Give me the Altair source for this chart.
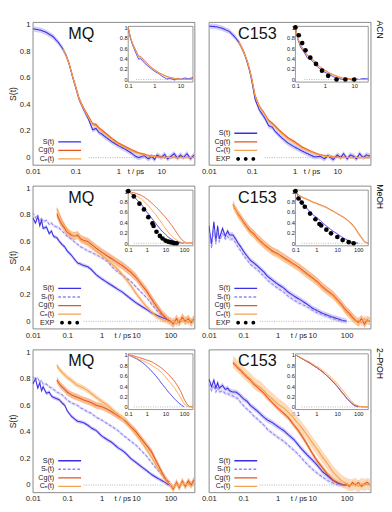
import altair as alt
import pandas as pd
import math

FONT = "Liberation Sans"
W, H = 170, 150
YMIN, YMAX = -0.055, 1.02
IYMIN, IYMAX = -0.05, 1.02

S, SR, CG, CE = "S(t)", "Sᵣ(t)", "Cg(t)", "Cₑ(t)"
COLORS = {S: "#3a2ee6", SR: "#8f86f2", CG: "#e8541c", CE: "#f6a24a"}
BAND = {S: "#c6c0f5", SR: "#dedaf9", CG: "#f5a46e", CE: "#fbcfa6"}
DASH = {S: [1, 0], SR: [3, 2], CG: [1, 0], CE: [1, 0]}
ROW_NAMES = ["ACN", "MeOH", "2–PrOH"]
N = None

# ---------------- ACN (top row) ----------------
G1 = [0.01, 0.015, 0.02, 0.03, 0.04, 0.05, 0.06, 0.07, 0.08, 0.09, 0.1, 0.12, 0.15, 0.2, 0.25,
      0.3, 0.35, 0.4, 0.5, 0.7, 1, 1.5, 2, 2.5, 3, 4, 5, 6, 7, 8, 10, 12, 14, 17, 20, 24, 28,
      33, 40, 48, 58]
ACN_MQ_S = [0.97, 0.96, 0.945, 0.91, 0.865, 0.82, 0.77, 0.71, 0.64, 0.58,
            0.53, 0.44, 0.37, 0.29, 0.21, 0.22, 0.19, 0.18, 0.155, 0.12,
            0.09, 0.06, 0.035, 0.01, 0.0, 0.015, -0.01, 0.01, -0.015, 0.02,
            0.0, 0.025, -0.01, 0.01, 0.03, -0.005, 0.02, 0.0, 0.03, -0.01, 0.02]
ACN_MQ_CG = [N] * 5 + [0.82, 0.77, 0.71, 0.645, 0.585, 0.54, 0.45, 0.38, 0.31, 0.255,
                       0.25, 0.225, 0.21, 0.185, 0.145, 0.11, 0.08, 0.06, 0.045, 0.035,
                       0.025, 0.015, 0.01, 0.012, 0.005, 0.006, 0.0, 0.004, 0.0, 0.003,
                       0.0, 0.004, 0.0, 0.002, 0.0, 0.003]
ACN_MQ_CE = [N] * 5 + [0.82, 0.77, 0.71, 0.645, 0.585, 0.535, 0.445, 0.375, 0.3, 0.245,
                       0.24, 0.215, 0.2, 0.175, 0.135, 0.1, 0.072, 0.052, 0.038, 0.03,
                       0.02, 0.012, 0.008, 0.008, 0.003, 0.004, -0.002, 0.002, 0.0, 0.001,
                       -0.002, 0.002, 0.0, 0.001, -0.001, 0.002]
ACN_C153_S = [0.99, 0.985, 0.975, 0.95, 0.91, 0.87, 0.82, 0.77, 0.71, 0.65,
              0.58, 0.44, 0.36, 0.3, 0.24, 0.23, 0.2, 0.18, 0.15, 0.11,
              0.08, 0.05, 0.03, 0.015, 0.005, 0.01, -0.01, 0.015, 0.0, -0.015,
              0.02, 0.0, 0.03, -0.01, 0.02, 0.01, -0.01, 0.03, 0.0, 0.02, 0.01]
ACN_C153_CG = [N] * 5 + [0.87, 0.82, 0.77, 0.72, 0.66, 0.6, 0.47, 0.39, 0.33, 0.28,
                         0.26, 0.24, 0.22, 0.19, 0.15, 0.12, 0.08, 0.06, 0.045, 0.035,
                         0.02, 0.015, 0.01, 0.01, 0.005, 0.005, 0.0, 0.003, 0.0, 0.002,
                         0.0, 0.003, 0.0, 0.002, 0.0, 0.001]
ACN_C153_CE = [N] * 5 + [0.87, 0.82, 0.77, 0.72, 0.66, 0.595, 0.465, 0.385, 0.325, 0.27,
                         0.25, 0.23, 0.21, 0.18, 0.14, 0.11, 0.072, 0.053, 0.04, 0.03,
                         0.017, 0.012, 0.008, 0.007, 0.003, 0.003, -0.001, 0.002, 0.0, 0.001,
                         -0.001, 0.002, 0.0, 0.001, -0.001, 0.0]
I1 = [0.1, 0.12, 0.15, 0.2, 0.25, 0.3, 0.4, 0.5, 0.7, 1, 1.5, 2, 3, 4, 6, 8, 10, 15, 20, 30]
ACN_MQ_IN_S = [1.0, 0.8, 0.65, 0.5, 0.39, 0.4, 0.33, 0.28, 0.22, 0.16, 0.11, 0.06, 0.01, 0.02,
               -0.01, 0.02, 0.0, 0.03, 0.01, 0.04]
ACN_MQ_IN_CG = [1.0, 0.82, 0.68, 0.55, 0.45, 0.44, 0.38, 0.33, 0.25, 0.19, 0.13, 0.1, 0.06,
                0.04, 0.02, 0.01, 0.01, 0.0, 0.0, 0.01]
ACN_MQ_IN_CE = [1.0, 0.81, 0.67, 0.53, 0.44, 0.42, 0.36, 0.31, 0.24, 0.18, 0.12, 0.09, 0.05,
                0.03, 0.02, 0.01, 0.0, 0.0, 0.0, 0.0]
ACN_C153_IN_S = [1.0, 0.78, 0.62, 0.52, 0.42, 0.4, 0.34, 0.27, 0.2, 0.14, 0.09, 0.05, 0.02,
                 0.0, 0.02, -0.01, 0.01, 0.0, 0.02, 0.01]
ACN_C153_IN_CG = [1.0, 0.8, 0.66, 0.56, 0.47, 0.44, 0.38, 0.32, 0.24, 0.18, 0.12, 0.09, 0.05,
                  0.03, 0.02, 0.01, 0.01, 0.0, 0.0, 0.0]
ACN_C153_IN_CE = [1.0, 0.79, 0.65, 0.55, 0.46, 0.43, 0.37, 0.31, 0.23, 0.17, 0.11, 0.08, 0.04,
                  0.02, 0.01, 0.01, 0.0, 0.0, 0.0, 0.0]
ACN_C153_EXP_T = [0.1, 0.13, 0.17, 0.22, 0.32, 0.5, 0.8, 1.3, 2.5, 5, 10]
ACN_C153_EXP_V = [1.0, 0.85, 0.7, 0.56, 0.42, 0.3, 0.17, 0.07, 0.0, 0.0, 0.0]

# ---------------- MeOH / 2-PrOH grid ----------------
G2 = [0.01, 0.012, 0.014, 0.016, 0.018, 0.02, 0.025, 0.03, 0.035, 0.04,
      0.05, 0.06, 0.07, 0.085, 0.1, 0.13, 0.16, 0.2, 0.25, 0.3,
      0.4, 0.5, 0.7, 1, 1.5, 2, 3, 4, 5, 7,
      10, 14, 20, 28, 40, 55, 70, 85, 100, 120,
      150, 180, 220, 270, 330, 400, 480]
I2 = [0.1, 0.15, 0.2, 0.3, 0.5, 0.7, 1, 1.5, 2, 3, 5, 7, 10, 15, 20, 30, 50, 70, 100, 150, 200, 300]

MEOH_MQ_S = [0.78, 0.74, 0.79, 0.72, 0.76, 0.7, 0.71, 0.66, 0.68, 0.64,
             0.63, 0.6, 0.58, 0.56, 0.53, 0.5, 0.47, 0.44, 0.43, 0.42,
             0.41, 0.39, 0.35, 0.32, 0.29, 0.27, 0.24, 0.22, 0.2, 0.17,
             0.14, 0.115, 0.09, 0.065, 0.045, 0.03, 0.02, 0.01, 0.0] + [N] * 8
MEOH_MQ_SR = [0.82, 0.78, 0.8, 0.76, 0.78, 0.75, 0.76, 0.73, 0.74, 0.72,
              0.71, 0.7, 0.68, 0.66, 0.64, 0.62, 0.6, 0.58, 0.56, 0.55,
              0.53, 0.52, 0.5, 0.48, 0.45, 0.41, 0.37, 0.35, 0.33, 0.3,
              0.26, 0.22, 0.18, 0.13, 0.08, 0.05, 0.025, 0.01, 0.0] + [N] * 8
MEOH_MQ_CG = [N] * 10 + [0.81, 0.76, 0.73, 0.7, 0.67, 0.65, 0.64, 0.65, 0.62, 0.61,
                         0.6, 0.58, 0.55, 0.52, 0.49, 0.47, 0.44, 0.42, 0.4, 0.37,
                         0.33, 0.28, 0.23, 0.17, 0.11, 0.06, 0.03, 0.01, 0.0, -0.02,
                         0.02, -0.01, 0.03, 0.0, 0.02, -0.01, 0.02]
MEOH_MQ_CE = [N] * 10 + [0.85, 0.8, 0.76, 0.72, 0.69, 0.66, 0.64, 0.64, 0.61, 0.6,
                         0.58, 0.56, 0.53, 0.5, 0.46, 0.43, 0.39, 0.35, 0.32, 0.27,
                         0.21, 0.16, 0.11, 0.07, 0.035, 0.015, 0.005, 0.0, -0.01, 0.01,
                         -0.02, 0.01, 0.0, 0.02, -0.01, 0.01, 0.0]
MEOH_MQ_IN_S = [1.0, 0.95, 0.9, 0.83, 0.75, 0.68, 0.6, 0.52, 0.46, 0.38, 0.28, 0.22, 0.17,
                0.11, 0.08, 0.04, 0.015, 0.005, 0.0, N, N, N]
MEOH_MQ_IN_CG = [1.0, 0.98, 0.97, 0.95, 0.92, 0.89, 0.85, 0.8, 0.76, 0.7, 0.62, 0.56, 0.5,
                 0.42, 0.36, 0.27, 0.15, 0.08, 0.03, 0.0, 0.01, 0.0]
MEOH_MQ_IN_CE = [1.0, 0.96, 0.93, 0.9, 0.85, 0.8, 0.75, 0.68, 0.62, 0.55, 0.44, 0.36, 0.28,
                 0.2, 0.15, 0.09, 0.04, 0.015, 0.0, 0.0, 0.0, 0.0]
MEOH_MQ_EXP_T = [0.1, 0.2, 0.4, 0.7, 1.2, 2, 2.3, 3.3, 5, 7, 10, 14, 18, 24, 30, 40]
MEOH_MQ_EXP_V = [1.0, 0.9, 0.76, 0.65, 0.5, 0.38, 0.33, 0.22, 0.14, 0.09, 0.05, 0.03, 0.02,
                 0.01, 0.0, 0.0]

MEOH_C153_S = [0.72, 0.58, 0.75, 0.6, 0.72, 0.62, 0.7, 0.64, 0.68, 0.65,
               0.65, 0.62, 0.59, 0.56, 0.53, 0.49, 0.46, 0.44, 0.42, 0.4,
               0.37, 0.34, 0.31, 0.28, 0.25, 0.22, 0.19, 0.17, 0.155, 0.13,
               0.1, 0.08, 0.06, 0.045, 0.03, 0.02, 0.01, 0.005, 0.0] + [N] * 8
MEOH_C153_SR = [0.68, 0.55, 0.7, 0.58, 0.68, 0.6, 0.66, 0.62, 0.64, 0.62,
                0.62, 0.59, 0.56, 0.53, 0.5, 0.46, 0.43, 0.41, 0.39, 0.37,
                0.34, 0.31, 0.28, 0.25, 0.22, 0.19, 0.16, 0.14, 0.13, 0.11,
                0.085, 0.065, 0.05, 0.035, 0.02, 0.01, 0.005, 0.0, 0.0] + [N] * 8
MEOH_C153_CG = [N] * 10 + [0.88, 0.84, 0.81, 0.78, 0.75, 0.71, 0.68, 0.66, 0.63, 0.61,
                           0.58, 0.56, 0.53, 0.51, 0.48, 0.46, 0.43, 0.41, 0.39, 0.36,
                           0.33, 0.3, 0.26, 0.23, 0.2, 0.16, 0.13, 0.1, 0.08, 0.06,
                           0.03, 0.01, -0.01, 0.02, -0.02, 0.01, 0.0]
MEOH_C153_CE = [N] * 10 + [0.88, 0.84, 0.8, 0.77, 0.74, 0.7, 0.67, 0.65, 0.62, 0.6,
                           0.57, 0.55, 0.52, 0.5, 0.47, 0.45, 0.42, 0.4, 0.38, 0.35,
                           0.32, 0.29, 0.25, 0.22, 0.19, 0.15, 0.12, 0.09, 0.065, 0.045,
                           0.02, 0.0, 0.01, -0.01, 0.02, 0.0, 0.01]
MEOH_C153_IN_S = [1.0, 0.87, 0.8, 0.7, 0.6, 0.54, 0.5, 0.44, 0.39, 0.33, 0.26, 0.22, 0.18,
                  0.13, 0.1, 0.06, 0.02, 0.01, 0.0, N, N, N]
MEOH_C153_IN_CG = [1.0, 0.92, 0.89, 0.86, 0.82, 0.79, 0.77, 0.74, 0.72, 0.69, 0.64, 0.61,
                   0.57, 0.53, 0.5, 0.45, 0.37, 0.3, 0.2, 0.1, 0.03, 0.0]
MEOH_C153_IN_CE = [1.0, 0.92, 0.88, 0.85, 0.81, 0.78, 0.76, 0.73, 0.71, 0.68, 0.63, 0.6,
                   0.56, 0.52, 0.49, 0.44, 0.35, 0.28, 0.18, 0.08, 0.02, 0.0]
MEOH_C153_EXP_T = [0.1, 0.14, 0.2, 0.28, 0.5, 0.9, 1.4, 1.7, 3, 5, 10, 18, 35, 60]
MEOH_C153_EXP_V = [1.0, 0.86, 0.78, 0.7, 0.57, 0.46, 0.37, 0.34, 0.26, 0.19, 0.12, 0.06, 0.02, 0.0]

PROH_MQ_S = [0.76, 0.8, 0.73, 0.77, 0.71, 0.74, 0.69, 0.7, 0.67, 0.66,
             0.65, 0.64, 0.62, 0.6, 0.56, 0.52, 0.5, 0.48, 0.475, 0.47,
             0.45, 0.43, 0.41, 0.37, 0.34, 0.32, 0.28, 0.26, 0.24, 0.2,
             0.17, 0.14, 0.11, 0.08, 0.055, 0.035, 0.02, 0.005, 0.0] + [N] * 8
PROH_MQ_SR = [0.82, 0.79, 0.81, 0.77, 0.79, 0.76, 0.76, 0.74, 0.73, 0.72,
              0.7, 0.69, 0.68, 0.66, 0.64, 0.62, 0.61, 0.6, 0.58, 0.57,
              0.55, 0.54, 0.51, 0.49, 0.46, 0.44, 0.41, 0.38, 0.36, 0.33,
              0.3, 0.26, 0.22, 0.17, 0.12, 0.08, 0.05, 0.03, 0.015] + [N] * 8
PROH_MQ_CG = [N] * 10 + [0.79, 0.76, 0.74, 0.72, 0.7, 0.68, 0.67, 0.66, 0.65, 0.64,
                         0.63, 0.62, 0.6, 0.59, 0.57, 0.55, 0.52, 0.5, 0.48, 0.44,
                         0.4, 0.35, 0.3, 0.25, 0.17, 0.1, 0.05, 0.02, 0.0, -0.03,
                         0.02, -0.02, 0.03, -0.01, 0.03, 0.0, 0.04]
PROH_MQ_CE = [N] * 10 + [0.9, 0.87, 0.85, 0.83, 0.81, 0.79, 0.77, 0.75, 0.74, 0.73,
                         0.71, 0.69, 0.66, 0.63, 0.6, 0.57, 0.53, 0.5, 0.47, 0.43,
                         0.38, 0.33, 0.27, 0.21, 0.14, 0.08, 0.04, 0.015, 0.0, -0.02,
                         0.01, -0.01, 0.02, 0.0, 0.01, -0.01, 0.02]
PROH_MQ_IN_S = [1.0, 0.97, 0.95, 0.92, 0.87, 0.83, 0.78, 0.72, 0.67, 0.6, 0.5, 0.43, 0.36,
                0.28, 0.23, 0.16, 0.08, 0.04, 0.0, N, N, N]
PROH_MQ_IN_CG = [1.0, 0.99, 0.98, 0.96, 0.94, 0.92, 0.9, 0.88, 0.86, 0.82, 0.77, 0.73, 0.68,
                 0.62, 0.57, 0.5, 0.38, 0.28, 0.15, 0.04, 0.01, 0.0]
PROH_MQ_IN_CE = [1.0, 0.98, 0.96, 0.93, 0.9, 0.88, 0.85, 0.82, 0.79, 0.75, 0.69, 0.64, 0.58,
                 0.5, 0.45, 0.37, 0.25, 0.16, 0.06, 0.01, 0.0, 0.0]

PROH_C153_S = [0.8, 0.74, 0.79, 0.73, 0.77, 0.73, 0.75, 0.72, 0.73, 0.71,
               0.7, 0.7, 0.69, 0.67, 0.65, 0.63, 0.6, 0.58, 0.56, 0.54,
               0.51, 0.49, 0.47, 0.44, 0.41, 0.38, 0.34, 0.3, 0.27, 0.23,
               0.19, 0.15, 0.1, 0.07, 0.035, 0.015, 0.005, 0.0, 0.0] + [N] * 8
PROH_C153_SR = [0.76, 0.71, 0.75, 0.7, 0.73, 0.7, 0.71, 0.69, 0.69, 0.68,
                0.67, 0.66, 0.65, 0.62, 0.6, 0.57, 0.55, 0.52, 0.5, 0.48,
                0.45, 0.42, 0.39, 0.36, 0.33, 0.3, 0.26, 0.23, 0.2, 0.16,
                0.12, 0.09, 0.06, 0.035, 0.015, 0.005, 0.0, 0.0, 0.0] + [N] * 8
PROH_C153_CG = [N] * 10 + [0.92, 0.9, 0.88, 0.86, 0.84, 0.81, 0.79, 0.76, 0.74, 0.72,
                           0.69, 0.66, 0.62, 0.58, 0.54, 0.51, 0.45, 0.41, 0.37, 0.31,
                           0.24, 0.18, 0.13, 0.08, 0.04, 0.02, 0.01, 0.0, 0.01, -0.01,
                           0.02, 0.0, 0.02, -0.01, 0.01, 0.02, 0.0]
PROH_C153_CE = [N] * 10 + [0.93, 0.91, 0.89, 0.87, 0.85, 0.82, 0.8, 0.77, 0.75, 0.74,
                           0.71, 0.68, 0.65, 0.61, 0.58, 0.55, 0.5, 0.46, 0.43, 0.38,
                           0.32, 0.27, 0.21, 0.16, 0.1, 0.06, 0.035, 0.02, 0.01, 0.0,
                           0.0, 0.01, -0.01, 0.01, 0.0, 0.01, 0.0]
PROH_C153_IN_S = [1.0, 0.96, 0.93, 0.89, 0.84, 0.8, 0.76, 0.71, 0.67, 0.61, 0.52, 0.46, 0.39,
                  0.3, 0.24, 0.15, 0.06, 0.02, 0.0, N, N, N]
PROH_C153_IN_CG = [1.0, 0.96, 0.93, 0.89, 0.84, 0.8, 0.76, 0.71, 0.67, 0.61, 0.53, 0.47, 0.4,
                   0.31, 0.25, 0.16, 0.07, 0.03, 0.01, 0.0, 0.0, 0.0]
PROH_C153_IN_CE = [1.0, 0.97, 0.94, 0.9, 0.86, 0.82, 0.78, 0.74, 0.7, 0.65, 0.57, 0.51, 0.45,
                   0.36, 0.3, 0.21, 0.1, 0.05, 0.02, 0.0, 0.0, 0.0]

# band half-widths
W_TOP = {S: 0.02, CG: 0.008, CE: 0.008}
W_MEOH_MQ = {S: 0.015, SR: 0.012, CG: 0.03, CE: 0.02}
W_MEOH_C153 = {S: 0.02, SR: 0.015, CG: 0.03, CE: 0.025}
W_PROH_MQ = {S: 0.015, SR: 0.012, CG: 0.025, CE: 0.02}
W_PROH_C153 = {S: 0.02, SR: 0.015, CG: 0.02, CE: 0.045}

ENTRY_H = 9
LINE_SYM = "M-6,0H6"
DOTS = ("M-3,0A1,1,0,1,1,-5,0A1,1,0,1,1,-3,0Z"
        "M1,0A1,1,0,1,1,-1,0A1,1,0,1,1,1,0Z"
        "M5,0A1,1,0,1,1,3,0A1,1,0,1,1,5,0Z")


def long_df(grid, series):
    rows = []
    for name, vals in series.items():
        for t, v in zip(grid, vals):
            if v is not None:
                rows.append({"t": t, "v": v, "series": name})
    return pd.DataFrame(rows)


def frac_to_t(dom, f):
    a, b = math.log10(dom[0]), math.log10(dom[1])
    return 10 ** (a + f * (b - a))


def panel(label, grid, main, widths, igrid, inset, xdom, idom, xvals, ivals,
          title_t, exp=None, left=True, zero_from=0.2):
    order = [s for s in [S, SR, CG, CE] if s in main]
    n_total = len(order) + (1 if exp else 0)
    leg_common = dict(title=None, orient="none", legendX=35, labelAlign="right",
                      labelOffset={"expr": "-20"}, labelFontSize=7.5, labelFont=FONT,
                      rowPadding=0, padding=0, symbolSize=16, labelColor="#222",
                      labelBaseline="middle")
    leg_lines = alt.Legend(legendY=H - 1 - n_total * ENTRY_H, symbolType=LINE_SYM,
                           symbolStrokeWidth=1.4, **leg_common)
    cscale = alt.Scale(domain=order, range=[COLORS[s] for s in order])
    dscale = alt.Scale(domain=order, range=[DASH[s] for s in order])

    df = long_df(grid, main)
    la, lb = math.log10(xdom[0]), math.log10(xdom[1])
    tx = W * (math.log10(title_t) - la) / (lb - la)
    xaxis = alt.Axis(values=xvals, format="~g", labelFontSize=8, labelPadding=3,
                     labelFlush=False, ticks=False, domain=False, grid=False,
                     titleX=tx, titleY=3, titleBaseline="top", titleFontSize=8,
                     titleFontWeight="normal", titleAlign="center")
    yaxis = alt.Axis(values=[0, 0.2, 0.4, 0.6, 0.8, 1], format="~g", labelFontSize=8,
                     labels=left, ticks=False, domain=False, grid=False, labelPadding=3,
                     titleFontSize=9, titleFontWeight="normal", titlePadding=2)
    xs = alt.Scale(type="log", domain=xdom)
    ys = alt.Scale(domain=[YMIN, YMAX])
    ytitle = "S(t)" if left else None
    xm = alt.X("t:Q", scale=xs, axis=xaxis, title="t / ps")

    layers = []
    for s in order:
        w = widths[s]
        layers.append(
            alt.Chart(df).transform_filter(alt.datum.series == s)
            .transform_calculate(lo=f"datum.v - {w}", hi=f"datum.v + {w}")
            .mark_area(color=BAND[s], opacity=0.75 if s in (CG, CE) else 0.8, clip=True)
            .encode(x=xm, y=alt.Y("lo:Q", scale=ys, axis=yaxis, title=ytitle), y2="hi:Q")
        )
    zdf = pd.DataFrame({"t": [zero_from, xdom[1]], "v": [0, 0]})
    layers.append(
        alt.Chart(zdf).mark_line(color="#999", strokeDash=[1, 1.5], strokeWidth=0.8)
        .encode(x=xm, y=alt.Y("v:Q", scale=ys, axis=yaxis, title=ytitle))
    )
    layers.append(
        alt.Chart(df).mark_line(strokeWidth=1.1, clip=True).encode(
            x=xm, y=alt.Y("v:Q", scale=ys, axis=yaxis, title=ytitle),
            color=alt.Color("series:N", scale=cscale, legend=leg_lines),
            strokeDash=alt.StrokeDash("series:N", scale=dscale, legend=leg_lines),
        )
    )
    tdf = pd.DataFrame({"t": [frac_to_t(xdom, 0.3)], "v": [0.93], "txt": [label]})
    layers.append(
        alt.Chart(tdf).mark_text(fontSize=17, font=FONT, color="#111")
        .encode(x=xm, y=alt.Y("v:Q", scale=ys, axis=yaxis, title=ytitle), text="txt:N")
    )
    main_layer = alt.layer(*layers)

    # inset
    ix0 = W * (0.59 if left else 0.535)
    ix1 = W * (0.99 if left else 0.985)
    iyt = H * 0.03
    iyb = H * 0.42
    xi_s = alt.Scale(type="log", domain=idom, range=[ix0, ix1])
    yi_s = alt.Scale(domain=[IYMIN, IYMAX], range=[iyb, iyt])
    xi = alt.X("t:Q", scale=xi_s, title=None,
               axis=alt.Axis(orient="bottom", offset=-(H - iyb), values=ivals, format="~g",
                             labelFontSize=6, labelPadding=1, ticks=False, domain=False,
                             grid=False, labelFlush=False))
    yi_axis = alt.Axis(orient="left", offset=-ix0, values=[0, 0.2, 0.4, 0.6, 0.8, 1],
                       format="~g", labelFontSize=6, labelPadding=1, ticks=False,
                       domain=False, grid=False)
    yi = alt.Y("v:Q", scale=yi_s, title=None, axis=yi_axis)
    idf = long_df(igrid, inset)
    rect_df = pd.DataFrame({"t": [idom[0]], "t2": [idom[1]], "v": [IYMIN], "v2": [IYMAX]})
    ilayers = [
        alt.Chart(rect_df).mark_rect(fill="white", stroke="#777", strokeWidth=0.8)
        .encode(x=xi, x2="t2:Q", y=yi, y2="v2:Q"),
        alt.Chart(pd.DataFrame({"t": [0.2, idom[1]], "v": [0, 0]}))
        .mark_line(color="#999", strokeDash=[1, 1.5], strokeWidth=0.7)
        .encode(x=xi, y=yi),
        alt.Chart(idf).mark_line(strokeWidth=1.0).encode(
            x=xi, y=yi,
            color=alt.Color("series:N", scale=cscale, legend=leg_lines),
            strokeDash=alt.StrokeDash("series:N", scale=dscale, legend=leg_lines),
        ),
    ]
    if exp:
        edf = pd.DataFrame({"t": exp[0], "v": exp[1], "kind": "EXP"})
        leg_exp = alt.Legend(legendY=H - 1 - ENTRY_H, symbolType=DOTS, symbolStrokeWidth=0,
                             symbolOpacity=1, **leg_common)
        ilayers.append(
            alt.Chart(edf).mark_circle(size=24, opacity=1).encode(
                x=xi, y=yi,
                fill=alt.Fill("kind:N", scale=alt.Scale(domain=["EXP"], range=["black"]),
                              legend=leg_exp),
            )
        )
    inset_layer = alt.layer(*ilayers)
    return alt.layer(main_layer, inset_layer).resolve_scale(
        x="independent", y="independent").properties(width=W, height=H)


def row(p1, p2, name):
    return alt.hconcat(
        p1, p2, spacing=4,
        title=alt.TitleParams(name, orient="right", anchor="start", fontSize=9, font=FONT,
                              fontWeight="normal", offset=3),
    ).resolve_scale(color="independent", strokeDash="independent", fill="independent"
                    ).resolve_legend(color="independent", strokeDash="independent",
                                     fill="independent")


XD1, XD2 = [0.01, 60], [0.01, 500]
ID1, ID2 = [0.1, 30], [0.1, 300]
XV1, XV2 = [0.01, 0.1, 1, 10], [0.01, 0.1, 1, 10, 100]
IV1, IV2 = [0.1, 1, 10], [0.1, 1, 10, 100]

r1 = row(
    panel("MQ", G1, {S: ACN_MQ_S, CG: ACN_MQ_CG, CE: ACN_MQ_CE}, W_TOP,
          I1, {S: ACN_MQ_IN_S, CG: ACN_MQ_IN_CG, CE: ACN_MQ_IN_CE},
          XD1, ID1, XV1, IV1, 2.5, left=True, zero_from=0.2),
    panel("C153", G1, {S: ACN_C153_S, CG: ACN_C153_CG, CE: ACN_C153_CE}, W_TOP,
          I1, {S: ACN_C153_IN_S, CG: ACN_C153_IN_CG, CE: ACN_C153_IN_CE},
          XD1, ID1, XV1, IV1, 2.5, exp=(ACN_C153_EXP_T, ACN_C153_EXP_V), left=False,
          zero_from=0.2),
    ROW_NAMES[0])
r2 = row(
    panel("MQ", G2, {S: MEOH_MQ_S, SR: MEOH_MQ_SR, CG: MEOH_MQ_CG, CE: MEOH_MQ_CE}, W_MEOH_MQ,
          I2, {S: MEOH_MQ_IN_S, CG: MEOH_MQ_IN_CG, CE: MEOH_MQ_IN_CE},
          XD2, ID2, XV2, IV2, 4, exp=(MEOH_MQ_EXP_T, MEOH_MQ_EXP_V), left=True, zero_from=0.3),
    panel("C153", G2, {S: MEOH_C153_S, SR: MEOH_C153_SR, CG: MEOH_C153_CG, CE: MEOH_C153_CE},
          W_MEOH_C153, I2, {S: MEOH_C153_IN_S, CG: MEOH_C153_IN_CG, CE: MEOH_C153_IN_CE},
          XD2, ID2, XV2, IV2, 4, exp=(MEOH_C153_EXP_T, MEOH_C153_EXP_V), left=False,
          zero_from=0.3),
    ROW_NAMES[1])
r3 = row(
    panel("MQ", G2, {S: PROH_MQ_S, SR: PROH_MQ_SR, CG: PROH_MQ_CG, CE: PROH_MQ_CE}, W_PROH_MQ,
          I2, {S: PROH_MQ_IN_S, CG: PROH_MQ_IN_CG, CE: PROH_MQ_IN_CE},
          XD2, ID2, XV2, IV2, 4, left=True, zero_from=0.3),
    panel("C153", G2, {S: PROH_C153_S, SR: PROH_C153_SR, CG: PROH_C153_CG, CE: PROH_C153_CE},
          W_PROH_C153, I2, {S: PROH_C153_IN_S, CG: PROH_C153_IN_CG, CE: PROH_C153_IN_CE},
          XD2, ID2, XV2, IV2, 4, left=False, zero_from=0.3),
    ROW_NAMES[2])

chart = alt.vconcat(r1, r2, r3, spacing=8).resolve_scale(
    color="independent", strokeDash="independent", fill="independent"
).resolve_legend(
    color="independent", strokeDash="independent", fill="independent"
).properties(padding={"left": 0, "top": 0, "right": 0, "bottom": 0}).configure_view(
    stroke="#666", strokeWidth=0.8
).configure_axis(labelFont=FONT, titleFont=FONT, labelColor="#222", titleColor="#222"
).configure_title(font=FONT)

chart.save("out.html", embed_options={"renderer": "svg", "actions": False})
